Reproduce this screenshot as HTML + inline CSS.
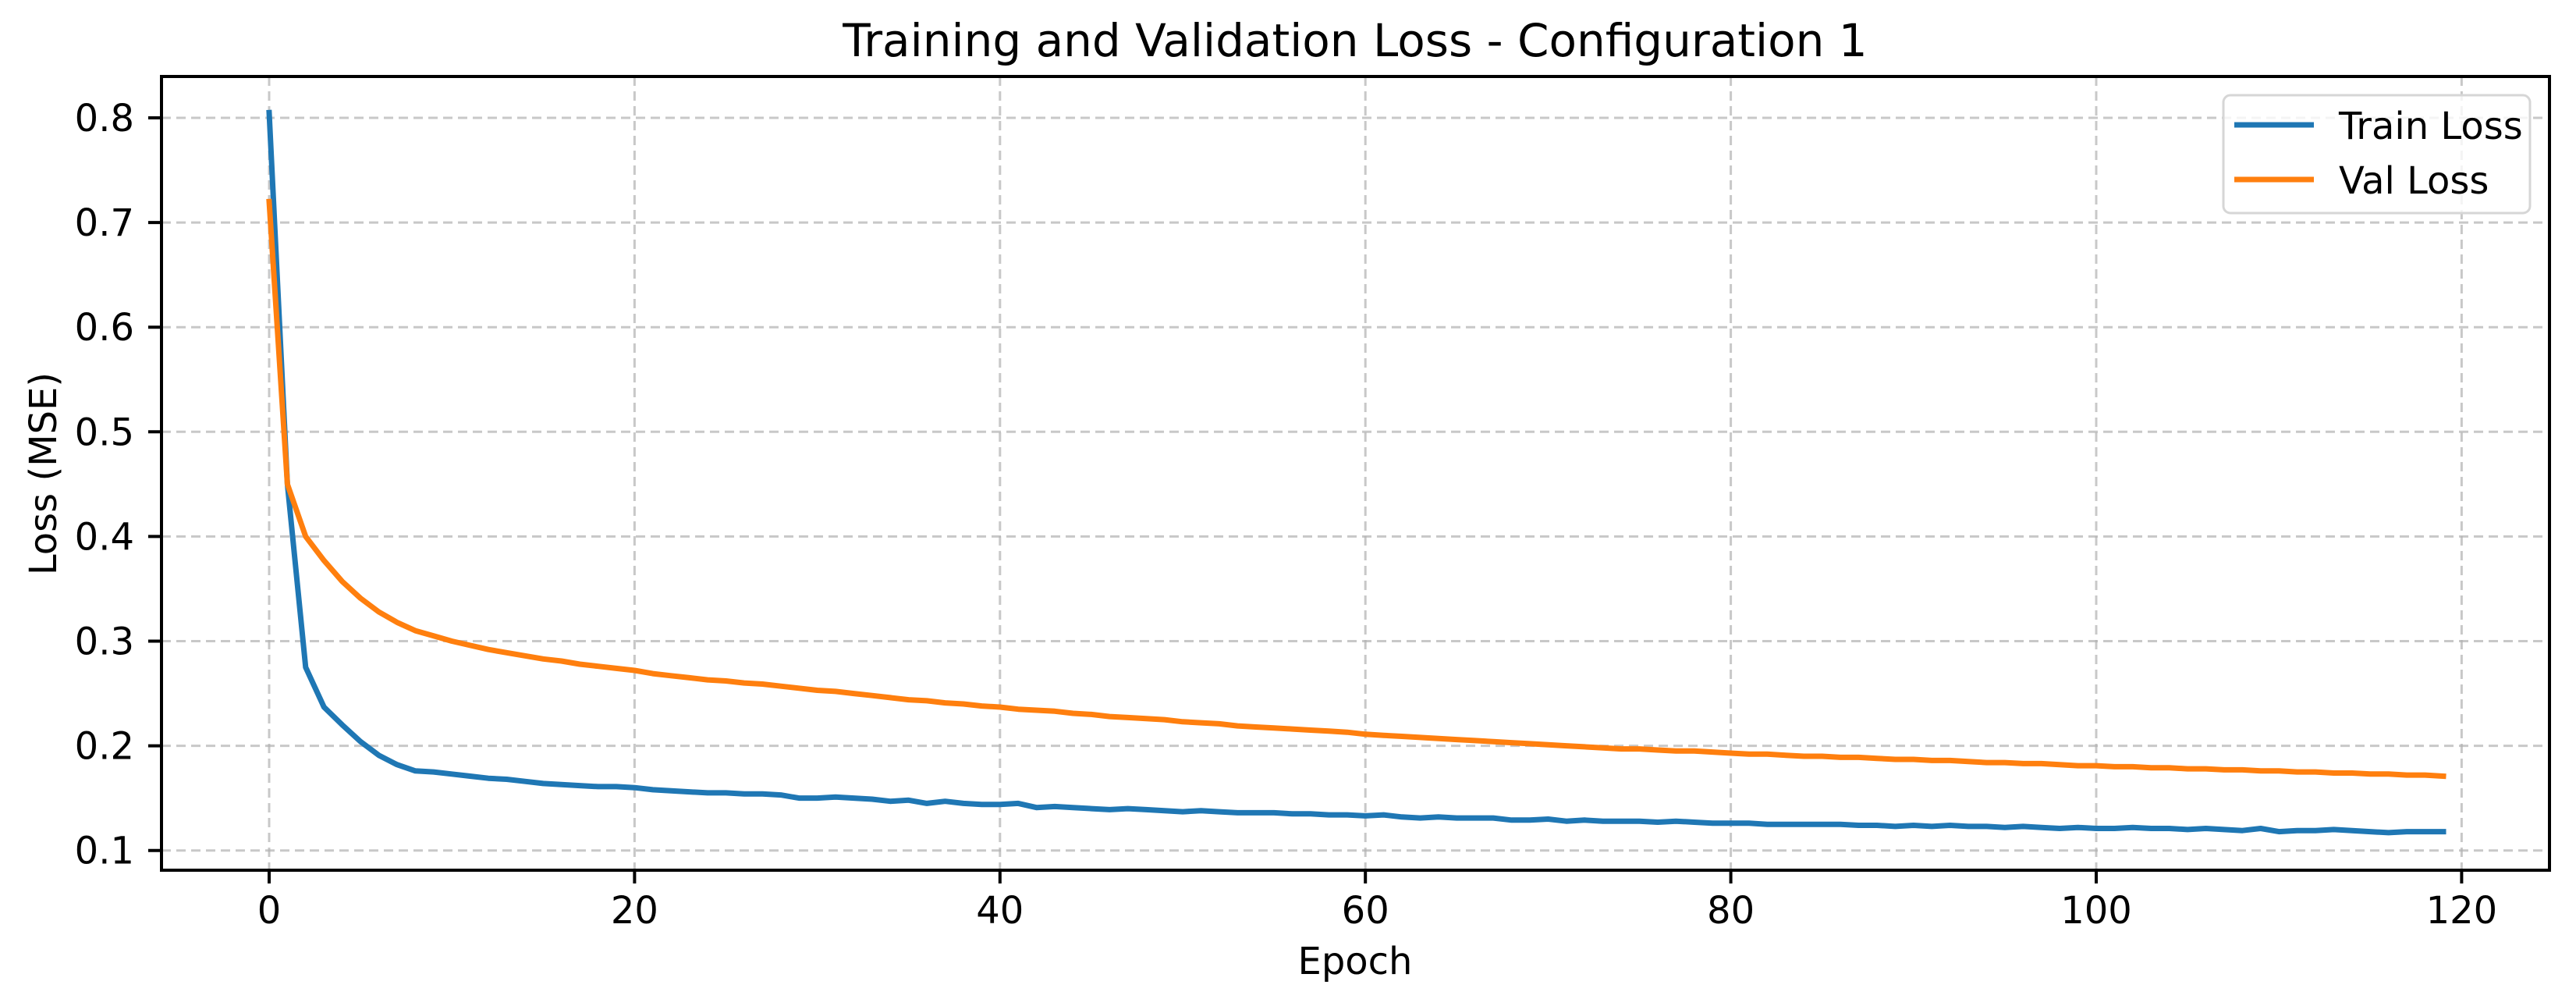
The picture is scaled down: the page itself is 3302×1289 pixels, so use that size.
<!DOCTYPE html>
<html><head><meta charset="utf-8">
<style>
html,body{margin:0;padding:0;background:#fff;}
svg{display:block;font-family:"DejaVu Sans","Liberation Sans",sans-serif;}
</style></head>
<body>
<svg id="chart" width="3302" height="1289" viewBox="0 0 3302 1289" xmlns="http://www.w3.org/2000/svg">
<rect width="3302" height="1289" fill="#fff"/>
<text x="1737" y="72" font-size="58" text-anchor="middle" fill="#000">Training and Validation Loss - Configuration 1</text>
<g id="grid"></g>
<g id="series"></g>
<rect x="207" y="98" width="3061" height="1017" fill="none" stroke="#000" stroke-width="4"/>
<g id="ticks"></g>
<text x="1737" y="1248" font-size="48" text-anchor="middle">Epoch</text>
<text x="0" y="0" font-size="48" text-anchor="middle" transform="translate(72,607) rotate(-90)">Loss (MSE)</text>
<g>
<rect x="2850" y="122" width="393" height="151" rx="9" fill="#fff" fill-opacity="0.8" stroke="#d6d6d6" stroke-width="3"/>
<line x1="2864" y1="160" x2="2966" y2="160" stroke="#1f77b4" stroke-width="7"/>
<text x="2998" y="178" font-size="48">Train Loss</text>
<line x1="2864" y1="230" x2="2966" y2="230" stroke="#ff7f0e" stroke-width="7"/>
<text x="2998" y="248" font-size="48">Val Loss</text>
</g>
</svg>
<script>
const xTicks = [0, 20, 40, 60, 80, 100, 120];
const yTicks = [0.1, 0.2, 0.3, 0.4, 0.5, 0.6, 0.7, 0.8];
const yTickLabels = ["0.1", "0.2", "0.3", "0.4", "0.5", "0.6", "0.7", "0.8"];
const trainLoss = [
.805,.450,.275,.237,.220,.204,.191,.182,.176,.175,
.173,.171,.169,.168,.166,.164,.163,.162,.161,.161,
.160,.158,.157,.156,.155,.155,.154,.154,.153,.150,
.150,.151,.150,.149,.147,.148,.145,.147,.145,.144,
.144,.145,.141,.142,.141,.140,.139,.140,.139,.138,
.137,.138,.137,.136,.136,.136,.135,.135,.134,.134,
.133,.134,.132,.131,.132,.131,.131,.131,.129,.129,
.130,.128,.129,.128,.128,.128,.127,.128,.127,.126,
.126,.126,.125,.125,.125,.125,.125,.124,.124,.123,
.124,.123,.124,.123,.123,.122,.123,.122,.121,.122,
.121,.121,.122,.121,.121,.120,.121,.120,.119,.121,
.118,.119,.119,.120,.119,.118,.117,.118,.118,.118];
const valLoss = [
.720,.450,.400,.377,.357,.341,.328,.318,.310,.305,
.300,.296,.292,.289,.286,.283,.281,.278,.276,.274,
.272,.269,.267,.265,.263,.262,.260,.259,.257,.255,
.253,.252,.250,.248,.246,.244,.243,.241,.240,.238,
.237,.235,.234,.233,.231,.230,.228,.227,.226,.225,
.223,.222,.221,.219,.218,.217,.216,.215,.214,.213,
.211,.210,.209,.208,.207,.206,.205,.204,.203,.202,
.201,.200,.199,.198,.197,.197,.196,.195,.195,.194,
.193,.192,.192,.191,.190,.190,.189,.189,.188,.187,
.187,.186,.186,.185,.184,.184,.183,.183,.182,.181,
.181,.180,.180,.179,.179,.178,.178,.177,.177,.176,
.176,.175,.175,.174,.174,.173,.173,.172,.172,.171];

const NS = "http://www.w3.org/2000/svg";
const PL = 207, PR = 3268, PT = 98, PB = 1115;
function xs(v){ return 345 + v * 23.42; }
function ys(v){ return 151 + (0.8 - v) * 1341; }
function mk(tag, attrs, parent){ const e = document.createElementNS(NS, tag); for (const k in attrs) e.setAttribute(k, attrs[k]); parent.appendChild(e); return e; }

const grid = document.getElementById('grid');
const ticks = document.getElementById('ticks');
xTicks.forEach(function(t){
  const x = xs(t);
  const g = mk('line', {x1:x, y1:PT, x2:x, y2:PB, stroke:'#b0b0b0', 'stroke-width':3, 'stroke-dasharray':'12 7', 'stroke-opacity':0.7}, grid);
  
  
  const tk = mk('line', {x1:x, y1:PB, x2:x, y2:PB+17, stroke:'#000', 'stroke-width':4}, ticks);
  
  
  const lb = mk('text', {x:x, y:1183, 'font-size':48, 'text-anchor':'middle'}, ticks);
  lb.textContent = String(t);
  
  
});
yTicks.forEach(function(t, i){
  const y = ys(t);
  const g = mk('line', {x1:PL, y1:y, x2:PR, y2:y, stroke:'#b0b0b0', 'stroke-width':3, 'stroke-dasharray':'12 7', 'stroke-opacity':0.7}, grid);
  
  
  const tk = mk('line', {x1:PL-17, y1:y, x2:PL, y2:y, stroke:'#000', 'stroke-width':4}, ticks);
  
  
  const lb = mk('text', {x:172, y:y+17, 'font-size':48, 'text-anchor':'end'}, ticks);
  lb.textContent = yTickLabels[i];
  
  
});
const series = document.getElementById('series');
function drawLine(data, color, name){
  const pts = data.map(function(v, i){ return xs(i).toFixed(1) + ',' + ys(v).toFixed(1); }).join(' ');
  const p = mk('polyline', {points:pts, fill:'none', stroke:color, 'stroke-width':7, 'stroke-linejoin':'round', 'stroke-linecap':'square'}, series);
  
  
}
drawLine(trainLoss, '#1f77b4', 'train-loss-line');
drawLine(valLoss, '#ff7f0e', 'val-loss-line');
</script>
</body></html>
